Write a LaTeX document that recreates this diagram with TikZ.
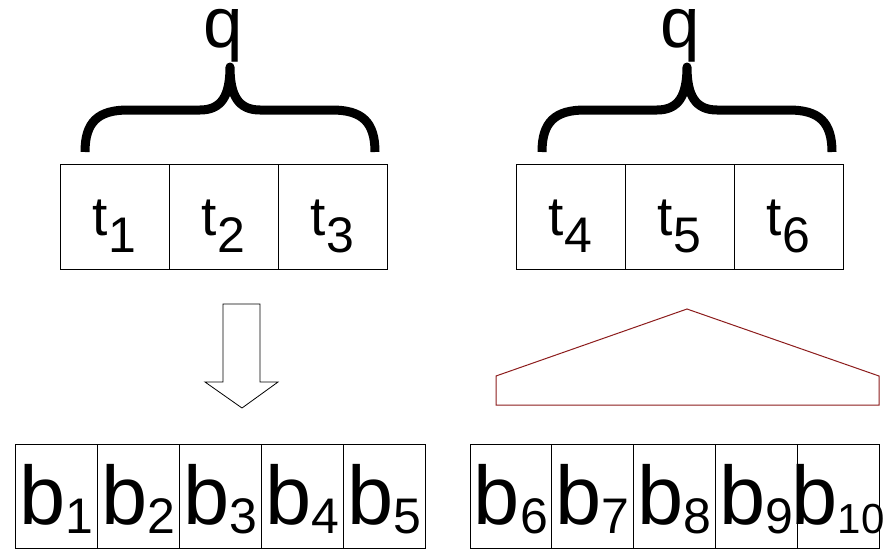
\documentclass[tikz,border=0pt]{standalone}
\usepackage{fontspec}
\setmainfont{Liberation Sans}
\definecolor{shapered}{RGB}{140,28,28}
\newcommand{\tlab}[2]{\makebox[0pt][c]{\fontsize{55}{55}\selectfont #1\raisebox{-17pt}{\fontsize{50}{50}\selectfont #2}}}
\newcommand{\blab}[3][50]{\makebox[0pt][c]{\fontsize{83}{83}\selectfont #2\raisebox{-9pt}{\fontsize{#1}{#1}\selectfont #3}}}
\begin{document}
\begin{tikzpicture}[x=1pt,y=-1pt,
  tbox/.style={draw=black, line width=0.8pt, minimum width=109pt, minimum height=105pt,
    inner sep=0pt, text height=37pt, text depth=0pt},
  bbox/.style={draw=black, line width=0.8pt, minimum width=82pt, minimum height=104pt,
    inner sep=0pt, text height=56pt, text depth=0pt},
  qlab/.style={anchor=base, inner sep=0pt, text height=38pt, text depth=0pt, font=\fontsize{71}{71}\selectfont},
  bracepath/.style={line width=9pt, line join=round},
  arrowshape/.style={draw=black, line width=0.8pt},
  roofshape/.style={draw=shapered, line width=1pt}]
\useasboundingbox (0,0) rectangle (889,549);

% top boxes
\node[tbox] (t1) at (114.5,216.5) {\tlab{t}{1}};
\node[tbox] (t2) at (223.5,216.5) {\tlab{t}{2}};
\node[tbox] (t3) at (332.5,216.5) {\tlab{t}{3}};
\node[tbox] (t4) at (570.5,216.5) {\tlab{t}{4}};
\node[tbox] (t5) at (679.5,216.5) {\tlab{t}{5}};
\node[tbox] (t6) at (788.5,216.5) {\tlab{t}{6}};

% q labels
\node[qlab] (q1) at (223,47) {q};
\node[qlab] (q2) at (680,47) {q};

% braces
\draw[bracepath] (85,152) .. controls (85,122) and (98,110) .. (128,110) -- (200,110)
  .. controls (222,110) and (230,95) .. (230,67)
  .. controls (230,95) and (238,110) .. (260,110) -- (332,110)
  .. controls (362,110) and (375,122) .. (375,152);
\begin{scope}[shift={(457,0)}]
\draw[bracepath] (85,152) .. controls (85,122) and (98,110) .. (128,110) -- (200,110)
  .. controls (222,110) and (230,95) .. (230,67)
  .. controls (230,95) and (238,110) .. (260,110) -- (332,110)
  .. controls (362,110) and (375,122) .. (375,152);
\end{scope}

% down arrow
\draw[arrowshape] (223,304) -- (260,304) -- (260,382) -- (278,382) -- (242,408)
  -- (205,382) -- (223,382) -- cycle;

% roof shape
\draw[roofshape] (496,405) -- (496,376) -- (687,309) -- (879,376) -- (879,405) -- cycle;

% bottom boxes
\node[bbox] (b1) at (56,496) {\blab{b}{1}};
\node[bbox] (b2) at (138,496) {\blab{b}{2}};
\node[bbox] (b3) at (220,496) {\blab{b}{3}};
\node[bbox] (b4) at (302,496) {\blab{b}{4}};
\node[bbox] (b5) at (384,496) {\blab{b}{5}};
\node[bbox, minimum width=81.8pt] (b6) at (510.9,496) {\blab{b}{6}};
\node[bbox, minimum width=81.8pt] (b7) at (592.7,496) {\blab{b}{7}};
\node[bbox, minimum width=81.8pt] (b8) at (674.5,496) {\blab{b}{8}};
\node[bbox, minimum width=81.8pt] (b9) at (756.3,496) {\blab{b}{9}};
\node[bbox, minimum width=81.8pt] (b10) at (838.1,496) {\blab[42]{b}{10}};
\end{tikzpicture}
\end{document}
